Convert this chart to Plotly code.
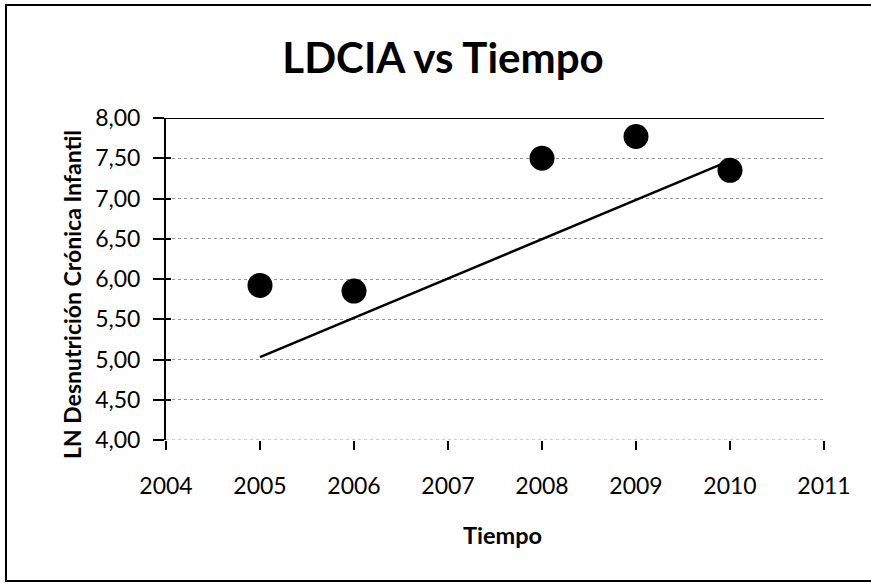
import plotly.graph_objects as go

years = [2005, 2006, 2008, 2009, 2010]
ldcia = [5.92, 5.85, 7.50, 7.77, 7.35]
trend_years = [2005, 2010]
trend_vals = [5.03, 7.47]
x_ticks = [2004, 2005, 2006, 2007, 2008, 2009, 2010, 2011]
y_ticks = [4.0, 4.5, 5.0, 5.5, 6.0, 6.5, 7.0, 7.5, 8.0]

W, H = 871, 583
L, R, T, B = 166, 871 - 824, 118, 583 - 440
pw, ph = W - L - R, H - T - B

def px(x):
    return (x - L) / pw

def py(y):
    return (H - B - y) / ph

fig = go.Figure()
fig.add_trace(go.Scatter(x=trend_years, y=trend_vals, mode="lines",
                         line=dict(color="black", width=2.5), showlegend=False))
fig.add_trace(go.Scatter(x=years, y=ldcia, mode="markers",
                         marker=dict(color="black", size=25, line=dict(width=0)),
                         showlegend=False))
# invisible trace on overlaying axis to show inner half of the crossing ticks
fig.add_trace(go.Scatter(x=[2004], y=[4], yaxis="y2", mode="markers",
                         marker=dict(opacity=0), showlegend=False, hoverinfo="skip"))

font = "Lato, 'Open Sans', sans-serif"
fig.update_layout(
    width=W, height=H,
    margin=dict(l=L, r=R, t=T, b=B),
    paper_bgcolor="white", plot_bgcolor="white",
    separators=",.",
    font=dict(family=font, color="black", size=23),
    title=dict(text="<b>LDCIA vs Tiempo</b>", x=px(443), xanchor="center", xref="paper",
               y=1 - 58 / H, yanchor="middle", font=dict(size=42, family=font)),
    xaxis=dict(range=[2004, 2011], tickvals=x_ticks, ticks="outside", ticklen=9,
               tickwidth=1.5, tickcolor="black", showgrid=False, zeroline=False,
               showline=False, tickfont=dict(size=23), ticklabelstandoff=16),
    yaxis=dict(range=[4, 8], tickvals=y_ticks, tickformat=".2f", ticks="outside",
               ticklen=11, tickwidth=1.5, tickcolor="black", showline=True,
               linecolor="black", linewidth=2, showgrid=True, gridcolor="#999",
               griddash="dot", gridwidth=1, zeroline=False, tickfont=dict(size=23),
               ticklabelstandoff=8),
    yaxis2=dict(range=[4, 8], tickvals=y_ticks, overlaying="y", side="left",
                ticks="inside", ticklen=5, tickwidth=1.5, tickcolor="black",
                showticklabels=False, showgrid=False, zeroline=False, showline=False),
    annotations=[
        dict(text="<b>LN Desnutrición Crónica Infantil</b>", xref="paper", yref="paper",
             x=px(72), y=py(295), textangle=-90, showarrow=False,
             xanchor="center", yanchor="middle", font=dict(size=23)),
        dict(text="<b>Tiempo</b>", xref="paper", yref="paper",
             x=px(502), y=py(535), showarrow=False,
             xanchor="center", yanchor="middle", font=dict(size=23.5)),
    ],
)

# dotted line at the bottom and solid top border of the plot area
fig.add_shape(type="line", xref="paper", yref="y", x0=0, x1=1, y0=4, y1=4,
              line=dict(color="#999", width=1, dash="dot"), layer="below")
fig.add_shape(type="line", xref="paper", yref="y", x0=0, x1=1, y0=8, y1=8,
              line=dict(color="black", width=2))
# outer frame
fig.add_shape(type="rect", xref="paper", yref="paper",
              x0=px(6), x1=px(873), y0=py(581), y1=py(5),
              line=dict(color="black", width=2), fillcolor="rgba(0,0,0,0)")

fig.write_html("out.html", config={"displayModeBar": False},
               post_script="document.body.style.margin='0';")
